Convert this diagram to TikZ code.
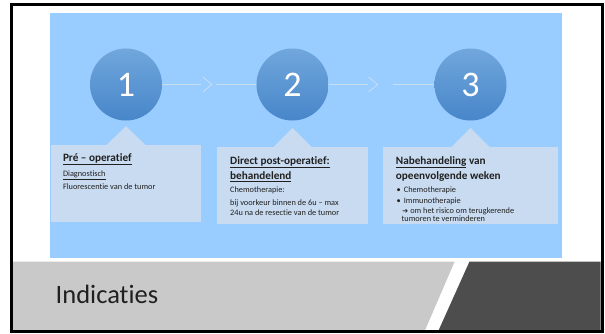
\documentclass[tikz,border=0pt]{standalone}
\usepackage{fontspec}
\setmainfont{Carlito}[Ligatures=NoCommon]
\newfontfamily\symfont{DejaVu Sans}
\usepackage{tikz}
\usetikzlibrary{positioning}
\usetikzlibrary{calc}
\usepackage{xcolor}

\definecolor{skyblue}{HTML}{99CCFF}
\definecolor{boxblue}{HTML}{C9DBF0}
\definecolor{circtop}{HTML}{70A7DC}
\definecolor{circbot}{HTML}{4886CA}
\definecolor{linkblue}{HTML}{C6DDF2}
\definecolor{textgrey}{HTML}{202020}
\definecolor{bandgrey}{HTML}{C9C9C9}
\definecolor{banddark}{HTML}{4D4D4D}

\newcommand{\titlefont}{\bfseries\fontsize{11.2}{12.7}\selectfont}

\begin{document}
\begin{tikzpicture}[x=1pt, y=-1pt,
    stepcircle/.style={circle, minimum size=72pt, inner sep=0pt, top color=circtop, bottom color=circbot, text=white, font=\fontsize{36}{36}\selectfont},
    infobox/.style={rectangle, fill=boxblue, anchor=north west, inner sep=0pt},
    link/.style={draw=linkblue, line width=0.9pt},
    boxtext/.style={anchor=north west, align=left, inner sep=0pt, text=textgrey, font=\fontsize{8.3}{10}\selectfont}]
    \useasboundingbox (0,0) rectangle (605,333);

    % Light blue panel
    \fill[skyblue] (50.4,13) rectangle (562.4,258.3);

    % Title band
    \fill[bandgrey] (12.5,261.7) -- (454.6,261.7) -- (424.7,331) -- (12.5,331) -- cycle;
    \fill[banddark] (469.4,261.7) -- (600.5,261.7) -- (600.5,331) -- (438.3,331) -- cycle;
    \node (title) [anchor=base west, inner sep=0pt, text=textgrey, font=\fontsize{26.5}{26.5}\selectfont] at (55.5,303.3) {Indicaties};

    % Steps
    \node (step1) [stepcircle] at (126,84.5) {1};
    \node (step2) [stepcircle] at (292.5,84.5) {2};
    \node (step3) [stepcircle] at (470.5,84.5) {3};

    % Connectors with chevrons
    \coordinate (chev1) at (200.5,84.5);
    \coordinate (chev1b) at (216,84.5);
    \coordinate (chev2) at (367.5,84.5);
    \coordinate (chev2b) at (393.3,84.5);
    \draw[link] (step1) -- (chev1);
    \draw[link] ($(chev1)+(2.5,-7.5)$) -- ++(8.7,7.5) -- ++(-8.7,7.5);
    \draw[link] (chev1b) -- (step2);
    \draw[link] (step2) -- (chev2);
    \draw[link] ($(chev2)+(1,-7.5)$) -- ++(9.2,7.5) -- ++(-9.2,7.5);
    \draw[link] (chev2b) -- (step3);

    % Callout boxes
    \node (box1) [infobox, minimum width=150.6pt, minimum height=76.7pt] at (50.4,145) {};
    \node (box2) [infobox, minimum width=150.5pt, minimum height=76.7pt] at (217.2,147) {};
    \node (box3) [infobox, minimum width=174.2pt, minimum height=76.7pt] at (383.2,147) {};
    \fill[boxblue] ($(box1.north -| step1)+(-19.5,0)$) -- ($(step1.south)+(0,5.5)$) -- ($(box1.north -| step1)+(19.5,0)$) -- cycle;
    \fill[boxblue] ($(box2.north -| step2)+(-19,0)$) -- ($(step2.south)+(0,7.2)$) -- ($(box2.north -| step2)+(19,0)$) -- cycle;
    \fill[boxblue] ($(box3.north -| step3)+(-19,0)$) -- ($(step3.south)+(0,7.2)$) -- ($(box3.north -| step3)+(19,0)$) -- cycle;

    % Box texts
    \node (text1) [boxtext] at (62.8,153.3) {{\titlefont\underline{Pré – operatief}}\\[4.8pt]
        \underline{Diagnostisch}\\[3pt]
        Fluorescentie van de tumor};
    \node (text2) [boxtext] at (230,156) {{\titlefont\underline{Direct post-operatief:}}\\[2.7pt]
        {\titlefont\underline{behandelend}}\\[3.4pt]
        Chemotherapie:\\[2.7pt]
        bij voorkeur binnen de 6u – max\\
        24u na de resectie van de tumor};
    \node (text3) [boxtext] at (395.7,156) {{\titlefont\underline{Nabehandeling} van}\\[2.7pt]
        {\titlefont opeenvolgende weken}\\[3.4pt]
        \hspace{0.8pt}•\hspace{3pt}Chemotherapie\\[0.6pt]
        \hspace{0.8pt}•\hspace{3pt}Immunotherapie\\[-0.4pt]
        \hspace{6.5pt}{\symfont\fontsize{7}{10}\selectfont ➔}\hspace{2pt}om het risico om terugkerende\\[-1.4pt]
        \hspace{5.8pt}tumoren te verminderen};

    % Slide frame
    \draw[black, line width=3pt] (11,4) rectangle (602.5,331.8);
\end{tikzpicture}
\end{document}
